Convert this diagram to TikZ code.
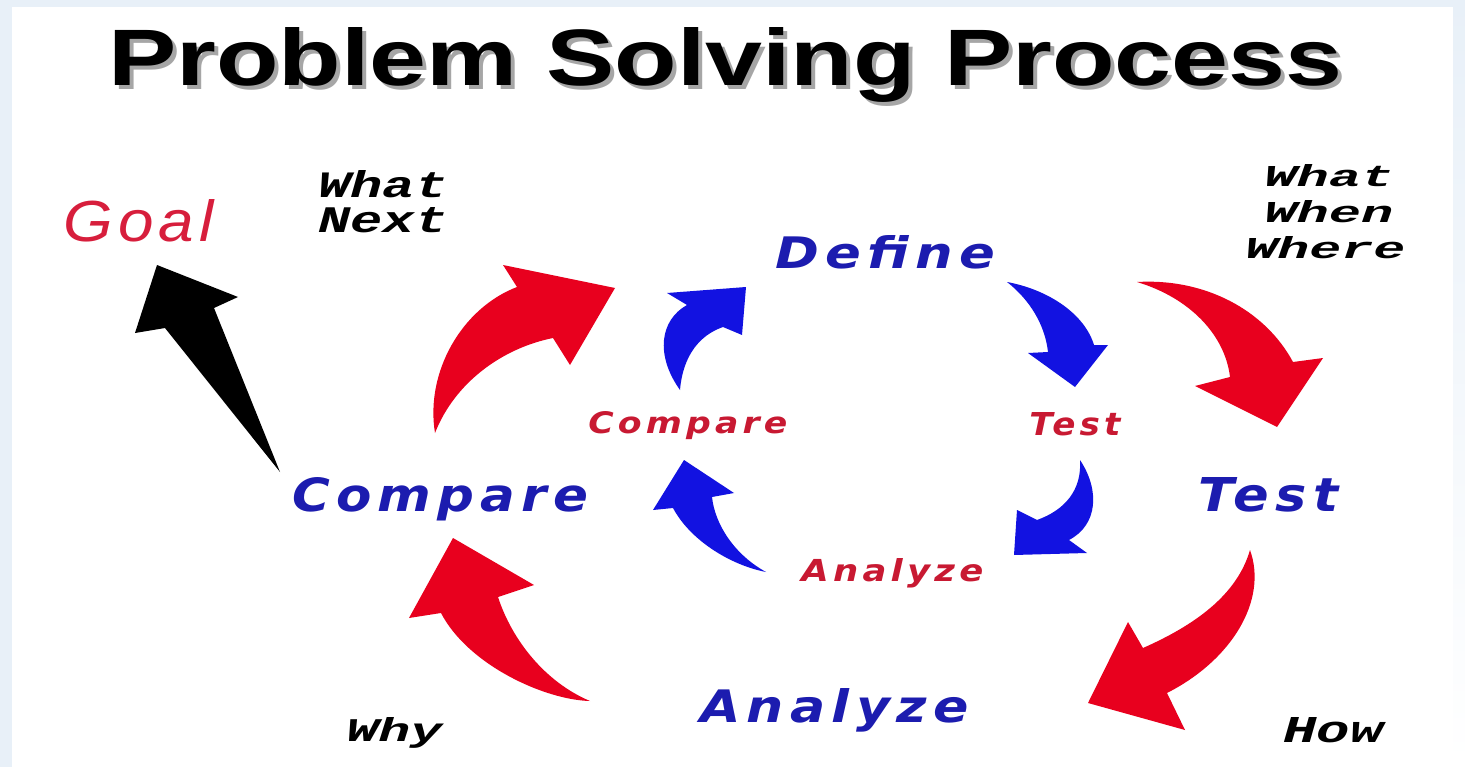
\documentclass[tikz,border=0pt]{standalone}
\usepackage{fontspec}
\usepackage{graphicx}
\setmainfont{Liberation Sans}
\newfontfamily\titlefont{Liberation Sans}
\newfontfamily\goalfont[LetterSpace=8]{Liberation Sans}
\newfontfamily\lblfont[LetterSpace=12]{DejaVu Sans}
\newfontfamily\cmonofont{Liberation Mono}
\newlength\pxu \setlength\pxu{0.02cm}
\newcommand\fitbox[3]{\resizebox{#1\pxu}{#2\pxu}{#3}}
\definecolor{arrred}{RGB}{232,0,30}
\definecolor{arrblue}{RGB}{18,18,225}
\definecolor{txtblue}{RGB}{28,28,175}
\definecolor{txtred}{RGB}{200,25,50}
\definecolor{goalred}{RGB}{215,30,60}
\definecolor{bordblue}{RGB}{232,240,248}
\begin{document}
\begin{tikzpicture}[x=0.02cm,y=-0.02cm,
  lbl/.style={inner sep=0pt, anchor=base west},
  redarrow/.style={fill=arrred},
  bluearrow/.style={fill=arrblue},
  blackarrow/.style={fill=black}]
\useasboundingbox (0,0) rectangle (1465,767);
\fill[bordblue] (0,0) rectangle (1465,767);
\shade[top color=bordblue, bottom color=white] (1453,0) rectangle (1465,767);
\fill[white] (12,7) rectangle (1453,767);

% title with shadow
\node[lbl, text=black, text opacity=0.35] (titleshadow) at (112,90) {\fitbox{1234}{58}{\titlefont\bfseries Problem Solving Process}};
\node[lbl, text=black] (title) at (108,86) {\fitbox{1234}{58}{\titlefont\bfseries Problem Solving Process}};

% labels
\node[lbl, text=goalred] (goal) at (63,241) {\fitbox{150}{42}{\goalfont\itshape Goal}};

\node[lbl] (what1) at (318,197) {\fitbox{129}{27}{\cmonofont\bfseries\itshape What}};
\node[lbl] (next1) at (318,233) {\fitbox{129}{25}{\cmonofont\bfseries\itshape Next}};

\node[lbl] (what2) at (1264,187) {\fitbox{129}{22}{\cmonofont\bfseries\itshape What}};
\node[lbl] (when2) at (1264,223) {\fitbox{129}{22}{\cmonofont\bfseries\itshape When}};
\node[lbl] (where2) at (1245,258) {\fitbox{160}{22}{\cmonofont\bfseries\itshape Where}};

\node[lbl] (why) at (346,741) {\fitbox{96}{24}{\cmonofont\bfseries\itshape Why}};
\node[lbl] (how) at (1283,742) {\fitbox{100}{25}{\cmonofont\bfseries\itshape How}};

\node[lbl, text=txtblue] (define) at (775,268) {\fitbox{220}{33}{\lblfont\bfseries\itshape Define}};
\node[lbl, text=txtblue] (comparebig) at (292,511) {\fitbox{296}{34}{\lblfont\bfseries\itshape Compare}};
\node[lbl, text=txtblue] (testbig) at (1198,511) {\fitbox{140}{34}{\lblfont\bfseries\itshape Test}};
\node[lbl, text=txtblue] (analyzebig) at (700,722) {\fitbox{268}{34}{\lblfont\bfseries\itshape Analyze}};

\node[lbl, text=txtred] (comparesm) at (588,433) {\fitbox{199}{22}{\lblfont\bfseries\itshape Compare}};
\node[lbl, text=txtred] (testsm) at (1029,435) {\fitbox{91}{23}{\lblfont\bfseries\itshape Test}};
\node[lbl, text=txtred] (analyzesm) at (801,581) {\fitbox{182}{23}{\lblfont\bfseries\itshape Analyze}};

% black arrow to Goal
\path[blackarrow] (157,265) -- (238,297) -- (214,308) -- (280,472) -- (165,328) -- (135,333) -- cycle;

% red outer arrows
\path[redarrow] (435,433) .. controls (425,372) and (462,308) .. (517,287) -- (503,265) -- (615,288) -- (570,365) -- (553,338) .. controls (503,348) and (455,382) .. (435,433) -- cycle;
\path[redarrow] (1137,282) .. controls (1205,278) and (1265,310) .. (1293,362) -- (1323,358) -- (1277,427) -- (1195,386) -- (1230,377) .. controls (1225,335) and (1190,298) .. (1137,282) -- cycle;
\path[redarrow] (1250,550) .. controls (1268,600) and (1232,660) .. (1167,693) -- (1185,730) -- (1088,703) -- (1128,622) -- (1143,648) .. controls (1195,625) and (1237,595) .. (1250,550) -- cycle;
\path[redarrow] (590,701) .. controls (545,700) and (468,665) .. (441,613) -- (409,618) -- (453,538) -- (534,585) -- (498,597) .. controls (512,640) and (545,682) .. (590,701) -- cycle;

% blue inner arrows
\path[bluearrow] (680,390) .. controls (655,355) and (660,320) .. (687,305) -- (667,293) -- (746,287) -- (742,335) -- (723,327) .. controls (700,335) and (683,355) .. (680,390) -- cycle;
\path[bluearrow] (1007,282) .. controls (1050,290) and (1085,315) .. (1094,345) -- (1108,345) -- (1075,387) -- (1028,353) -- (1048,352) .. controls (1045,325) and (1030,300) .. (1007,282) -- cycle;
\path[bluearrow] (1080,460) .. controls (1100,490) and (1098,525) .. (1069,540) -- (1087,553) -- (1014,555) -- (1017,510) -- (1037,520) .. controls (1065,510) and (1082,490) .. (1080,460) -- cycle;
\path[bluearrow] (766,572) .. controls (730,565) and (690,540) .. (673,508) -- (653,510) -- (684,460) -- (734,493) -- (712,497) .. controls (715,525) and (735,555) .. (766,572) -- cycle;
\end{tikzpicture}
\end{document}
